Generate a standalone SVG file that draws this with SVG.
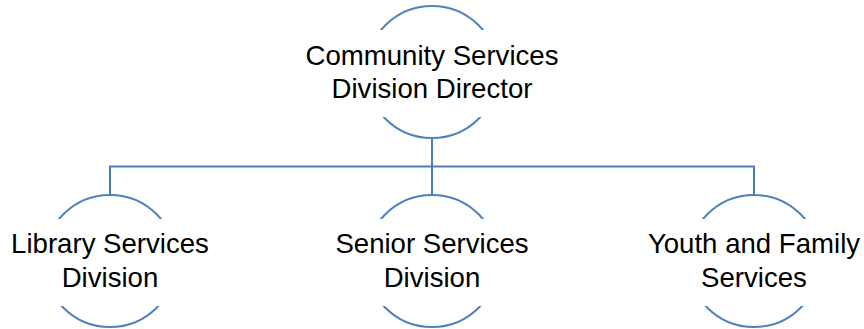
<svg xmlns="http://www.w3.org/2000/svg" width="864" height="329" viewBox="0 0 864 329">
<style>
.ring{fill:none;stroke:#4F81BD;stroke-width:2}
.mask{fill:#ffffff;stroke:none}
.lbl{font-family:"Liberation Sans",Arial,sans-serif;font-size:27.6px;fill:#000000;text-anchor:middle}
.conn{fill:none;stroke:#4A7EBB;stroke-width:2}
</style>
<rect width="864" height="329" fill="#ffffff"/>
<g id="connectors">
<path class="conn" d="M432 138 V195"/>
<path class="conn" d="M110 195 V166.5 H754 V195"/>
</g>
<g id="director">
<circle class="ring" cx="432" cy="72" r="66"/>
<rect class="mask" x="362" y="30" width="140" height="87"/>
<text class="lbl" x="432" y="65">Community Services</text>
<text class="lbl" x="432" y="98">Division Director</text>
</g>
<g id="library">
<circle class="ring" cx="110" cy="261" r="66"/>
<rect class="mask" x="40" y="219" width="140" height="87"/>
<text class="lbl" x="110" y="253">Library Services</text>
<text class="lbl" x="110" y="287">Division</text>
</g>
<g id="senior">
<circle class="ring" cx="432" cy="261" r="66"/>
<rect class="mask" x="362" y="219" width="140" height="87"/>
<text class="lbl" x="432" y="253">Senior Services</text>
<text class="lbl" x="432" y="287">Division</text>
</g>
<g id="youth">
<circle class="ring" cx="754" cy="261" r="66"/>
<rect class="mask" x="684" y="219" width="140" height="87"/>
<text class="lbl" x="754" y="253">Youth and Family</text>
<text class="lbl" x="754" y="287">Services</text>
</g>
</svg>
